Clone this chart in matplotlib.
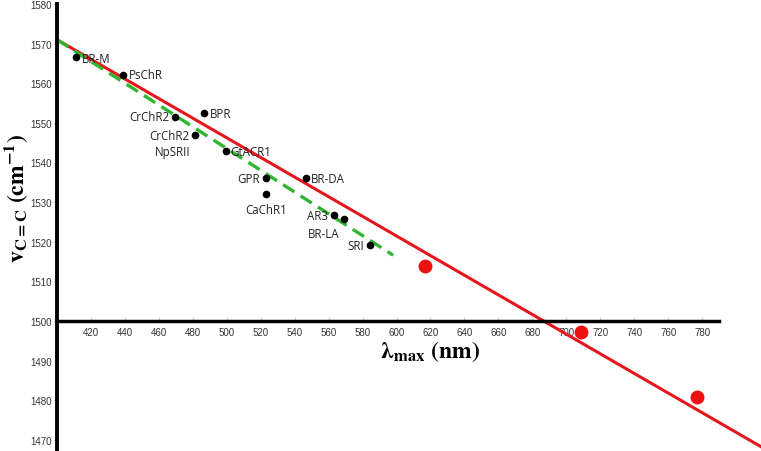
import matplotlib
matplotlib.use("Agg")
import matplotlib.pyplot as plt

# Data
names = ["BR-M", "PsChR", "CrChR2", "BPR", "CrChR2", "GtACR1", "GPR", "CaChR1",
         "BR-DA", "AR3", "BR-LA", "SRI"]
lam = [411.2, 438.8, 469.4, 486.5, 481.2, 499.4, 522.9, 522.9, 546.5, 563.0, 568.8, 584.1]
nu = [1566.5, 1562.2, 1551.6, 1552.4, 1546.9, 1542.8, 1536.0, 1532.0, 1536.0, 1526.7, 1525.7, 1519.1]
extra_label = "NpSRII"

red_lam = [616.5, 708.6, 776.9]
red_nu = [1513.9, 1497.3, 1480.8]

red_fit_x = [400, 815]
red_fit_y = [1571.0, 1468.2]
green_fit_x = [400, 598]
green_fit_y = [1571.0, 1516.6]

xticks = list(range(420, 781, 20))
yticks = list(range(1470, 1581, 10))

W, H = 761, 452
fig = plt.figure(figsize=(W / 100, H / 100), dpi=100)
plt.rcParams['mathtext.fontset'] = 'stix'

x0, x1 = 400, 814.7
s = (322 - 5) / 80.0
y_top = 1580 + 5 / s
y_bot = 1580 - (452 - 5) / s
ax = fig.add_axes([57 / W, 0, (W - 57) / W, 1])
ax.set_xlim(x0, x1)
ax.set_ylim(y_bot, y_top)

ax.plot(red_fit_x, red_fit_y, color="#e5161c", lw=2.2, zorder=2)
ax.plot(green_fit_x, green_fit_y, color="#2fb52f", lw=2.4, ls=(0, (4, 2.2)), zorder=2)
ax.plot(lam, nu, 'o', color='black', ms=4.5, zorder=3)
ax.plot(red_lam, red_nu, 'o', color='#ee1111', ms=9, zorder=3)

offsets = {
    0: (4, -1, 'left', 'center'),
    1: (4, 0, 'left', 'center'),
    2: (-4, 0, 'right', 'center'),
    3: (4, 0, 'left', 'center'),
    4: (-4, 0, 'right', 'center'),
    5: (3, 0, 'left', 'center'),
    6: (-4, 0, 'right', 'center'),
    7: (0, -6, 'center', 'top'),
    8: (4, 0, 'left', 'center'),
    9: (-4, 0, 'right', 'center'),
    10: (-3, -6, 'right', 'top'),
    11: (-4, 0, 'right', 'center'),
}
for i, (n, xv, yv) in enumerate(zip(names, lam, nu)):
    dx, dy, ha, va = offsets[i]
    ax.annotate(n, (xv, yv), xytext=(dx, dy), textcoords='offset points',
                ha=ha, va=va, fontsize=8.3, family='Open Sans', color='#222222')
ax.annotate(extra_label, (lam[4], nu[4]), xytext=(-3, -7), textcoords='offset points',
            ha='right', va='top', fontsize=8.3, family='Open Sans', color='#222222')

for side in ['top', 'right']:
    ax.spines[side].set_visible(False)
ax.spines['bottom'].set_position(('data', 1500))
ax.spines['bottom'].set_bounds(400, 790)
ax.spines['bottom'].set_linewidth(2.5)
ax.spines['left'].set_position(('data', 400))
ax.spines['left'].set_bounds(y_bot, 1580)
ax.spines['left'].set_linewidth(2.8)

ax.set_xticks(xticks)
ax.set_xticklabels([str(t) for t in xticks], fontsize=7, family='Liberation Sans', color='#333333')
ax.set_yticks(yticks)
ax.set_yticklabels([str(t) for t in yticks], fontsize=7, family='Liberation Sans', color='#333333')
ax.tick_params(axis='x', direction='in', length=3, width=0.6, color='#cccccc', pad=4)
ax.tick_params(axis='y', direction='out', length=2, width=0.6, color='#999999', pad=2)

fig.text(430 / W, 1 - 352 / H, r'$\boldsymbol{\lambda}_{\mathbf{max}}\ \mathbf{(nm)}$',
         fontsize=17, ha='center', va='center')
fig.text(16 / W, 1 - 198 / H, r'$\mathbf{v}_{\mathbf{C{=}C}}\ \mathbf{(cm^{-1})}$',
         fontsize=17, ha='center', va='center', rotation=90)

fig.savefig("out.png", dpi=100)
